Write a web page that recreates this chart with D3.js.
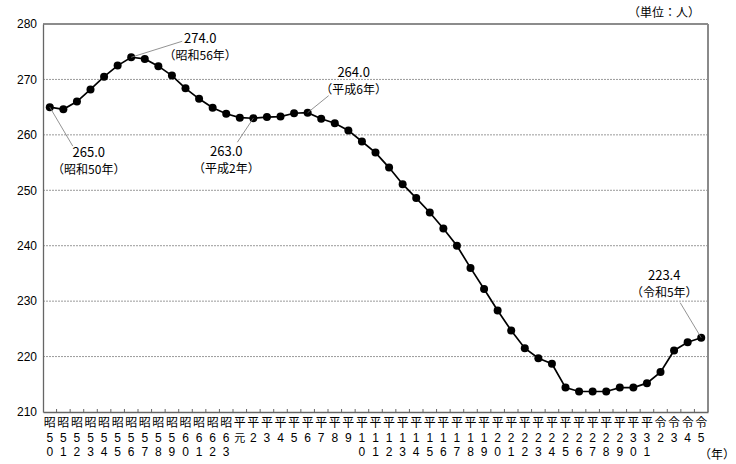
<!DOCTYPE html>
<html lang="ja">
<head>
    <meta charset="UTF-8">
    <title>推移</title>
    <style>
        body { margin: 0; background: #fff; }
        text { font-family: "Noto Sans CJK JP", sans-serif; }
    </style>
</head>
<body>
    <div id="chart"></div>

    <script src="https://cdn.jsdelivr.net/npm/d3@7"></script>

    <script>
        // x categories (Showa 50 .. Reiwa 5)
        const years = [
            "昭50", "昭51", "昭52", "昭53", "昭54", "昭55", "昭56", "昭57", "昭58", "昭59",
            "昭60", "昭61", "昭62", "昭63", "平元", "平2", "平3", "平4", "平5", "平6",
            "平7", "平8", "平9", "平10", "平11", "平12", "平13", "平14", "平15", "平16",
            "平17", "平18", "平19", "平20", "平21", "平22", "平23", "平24", "平25", "平26",
            "平27", "平28", "平29", "平30", "平31", "令2", "令3", "令4", "令5"
        ];

        const values = [
            265.0, 264.6, 266.0, 268.2, 270.5, 272.5, 274.0, 273.7, 272.4, 270.7,
            268.4, 266.5, 264.9, 263.8, 263.1, 263.0, 263.2, 263.3, 263.9, 264.0,
            262.9, 262.1, 260.8, 258.8, 256.8, 254.1, 251.1, 248.6, 246.0, 243.1,
            240.0, 236.0, 232.2, 228.3, 224.7, 221.5, 219.7, 218.7, 214.4, 213.7,
            213.7, 213.7, 214.4, 214.4, 215.2, 217.2, 221.1, 222.6, 223.4
        ];

        const yTicks = [210, 220, 230, 240, 250, 260, 270, 280];

        // annotated points: category, value text, era text
        const notes = [
            { year: "昭50", label: "265.0", era: "（昭和50年）" },
            { year: "昭56", label: "274.0", era: "（昭和56年）" },
            { year: "平2", label: "263.0", era: "（平成2年）" },
            { year: "平6", label: "264.0", era: "（平成6年）" },
            { year: "令5", label: "223.4", era: "（令和5年）" }
        ];

        const W = 736, H = 464;
        const margin = { top: 24, right: 28, bottom: 52, left: 43 };
        const width = W - margin.left - margin.right;
        const height = H - margin.top - margin.bottom;

        const svg = d3.select("#chart")
            .append("svg")
            .attr("width", W)
            .attr("height", H);

        const g = svg.append("g")
            .attr("transform", `translate(${margin.left},${margin.top})`);

        const x = d3.scaleBand()
            .domain(years)
            .range([0, width]);

        const y = d3.scaleLinear()
            .domain([210, 280])
            .range([height, 0]);

        const cx = d => x(d) + x.bandwidth() / 2;

        // dashed gridlines
        g.append("g")
            .selectAll("line")
            .data(yTicks.filter(t => t > 210 && t < 280))
            .enter()
            .append("line")
            .attr("x1", 0)
            .attr("x2", width)
            .attr("y1", d => y(d))
            .attr("y2", d => y(d))
            .attr("stroke", "#9a9a9a")
            .attr("stroke-width", 1)
            .attr("stroke-dasharray", "2,1");

        // frame
        g.append("line").attr("x1", 0).attr("x2", width).attr("y1", 0).attr("y2", 0)
            .attr("stroke", "#666").attr("stroke-width", 1.3);
        g.append("line").attr("x1", width).attr("x2", width).attr("y1", 0).attr("y2", height)
            .attr("stroke", "#8a8a8a").attr("stroke-width", 2);

        // y axis
        const yAxis = g.append("g")
            .call(d3.axisLeft(y).tickValues(yTicks).tickSize(0).tickPadding(6));
        yAxis.select(".domain").attr("stroke", "#666").attr("stroke-width", 1.3);
        yAxis.selectAll("text")
            .style("font-family", "'Liberation Sans', Arial, sans-serif")
            .style("font-size", "12px")
            .attr("fill", "#000");

        // x axis
        const xAxis = g.append("g")
            .attr("transform", `translate(0,${height})`)
            .call(d3.axisBottom(x).tickSize(0).tickFormat(""));
        xAxis.select(".domain").attr("stroke", "#666").attr("stroke-width", 1.3);

        // small ticks between categories
        g.append("g")
            .selectAll("line")
            .data(years.slice(1))
            .enter()
            .append("line")
            .attr("x1", d => x(d))
            .attr("x2", d => x(d))
            .attr("y1", height)
            .attr("y2", height - 3)
            .attr("stroke", "#666")
            .attr("stroke-width", 1);

        // vertical stacked tick labels, one character per row
        const labels = g.append("g");
        years.forEach(d => {
            Array.from(d).forEach((ch, i) => {
                const digit = /[0-9]/.test(ch);
                labels.append("text")
                    .attr("x", cx(d))
                    .attr("y", height + 15 + i * 14.5)
                    .attr("text-anchor", "middle")
                    .style("font-family", digit ? "'Liberation Sans Narrow', 'Liberation Sans', sans-serif" : null)
                    .style("font-size", digit ? "12px" : (i > 0 ? "11px" : "12px"))
                    .attr("fill", "#000")
                    .text(ch);
            });
        });

        // line + points
        const pts = years.map((d, i) => ({ year: d, value: values[i] }));

        g.append("path")
            .datum(pts)
            .attr("fill", "none")
            .attr("stroke", "#000")
            .attr("stroke-width", 1.7)
            .attr("d", d3.line().x(d => cx(d.year)).y(d => y(d.value)));

        g.selectAll(".dot")
            .data(pts)
            .enter()
            .append("circle")
            .attr("class", "dot")
            .attr("cx", d => cx(d.year))
            .attr("cy", d => y(d.value))
            .attr("r", 4)
            .attr("fill", "#000");

        // annotation placement (offsets from the point: text centre, leader end)
        const place = {
            "昭50": { tx: 39, ty: 50, lx: 23, ly: 39 },
            "昭56": { tx: 69, ty: -14, lx: 51, ly: -16 },
            "平2": { tx: -27, ty: 38, lx: -16, ly: 24 },
            "平6": { tx: 46, ty: -36, lx: 21, ly: -17 },
            "令5": { tx: -37, ty: -58, lx: -21, ly: -35 }
        };

        notes.forEach(n => {
            const p = place[n.year];
            const px = cx(n.year);
            const py = y(values[years.indexOf(n.year)]);
            g.append("line")
                .attr("x1", px).attr("y1", py)
                .attr("x2", px + p.lx).attr("y2", py + p.ly)
                .attr("stroke", "#777")
                .attr("stroke-width", 0.8);
            g.append("text")
                .attr("x", px + p.tx)
                .attr("y", py + p.ty)
                .attr("text-anchor", "middle")
                .style("font-size", "13px")
                .text(n.label);
            g.append("text")
                .attr("x", px + p.tx)
                .attr("y", py + p.ty + 17)
                .attr("text-anchor", "middle")
                .style("font-size", "12px")
                .text(n.era);
        });

        // unit and axis caption
        svg.append("text")
            .attr("x", 700)
            .attr("y", 17)
            .attr("text-anchor", "end")
            .style("font-size", "12px")
            .text("（単位：人）");

        svg.append("text")
            .attr("x", 735)
            .attr("y", 459)
            .attr("text-anchor", "end")
            .style("font-size", "12px")
            .text("（年）");
    </script>
</body>
</html>
